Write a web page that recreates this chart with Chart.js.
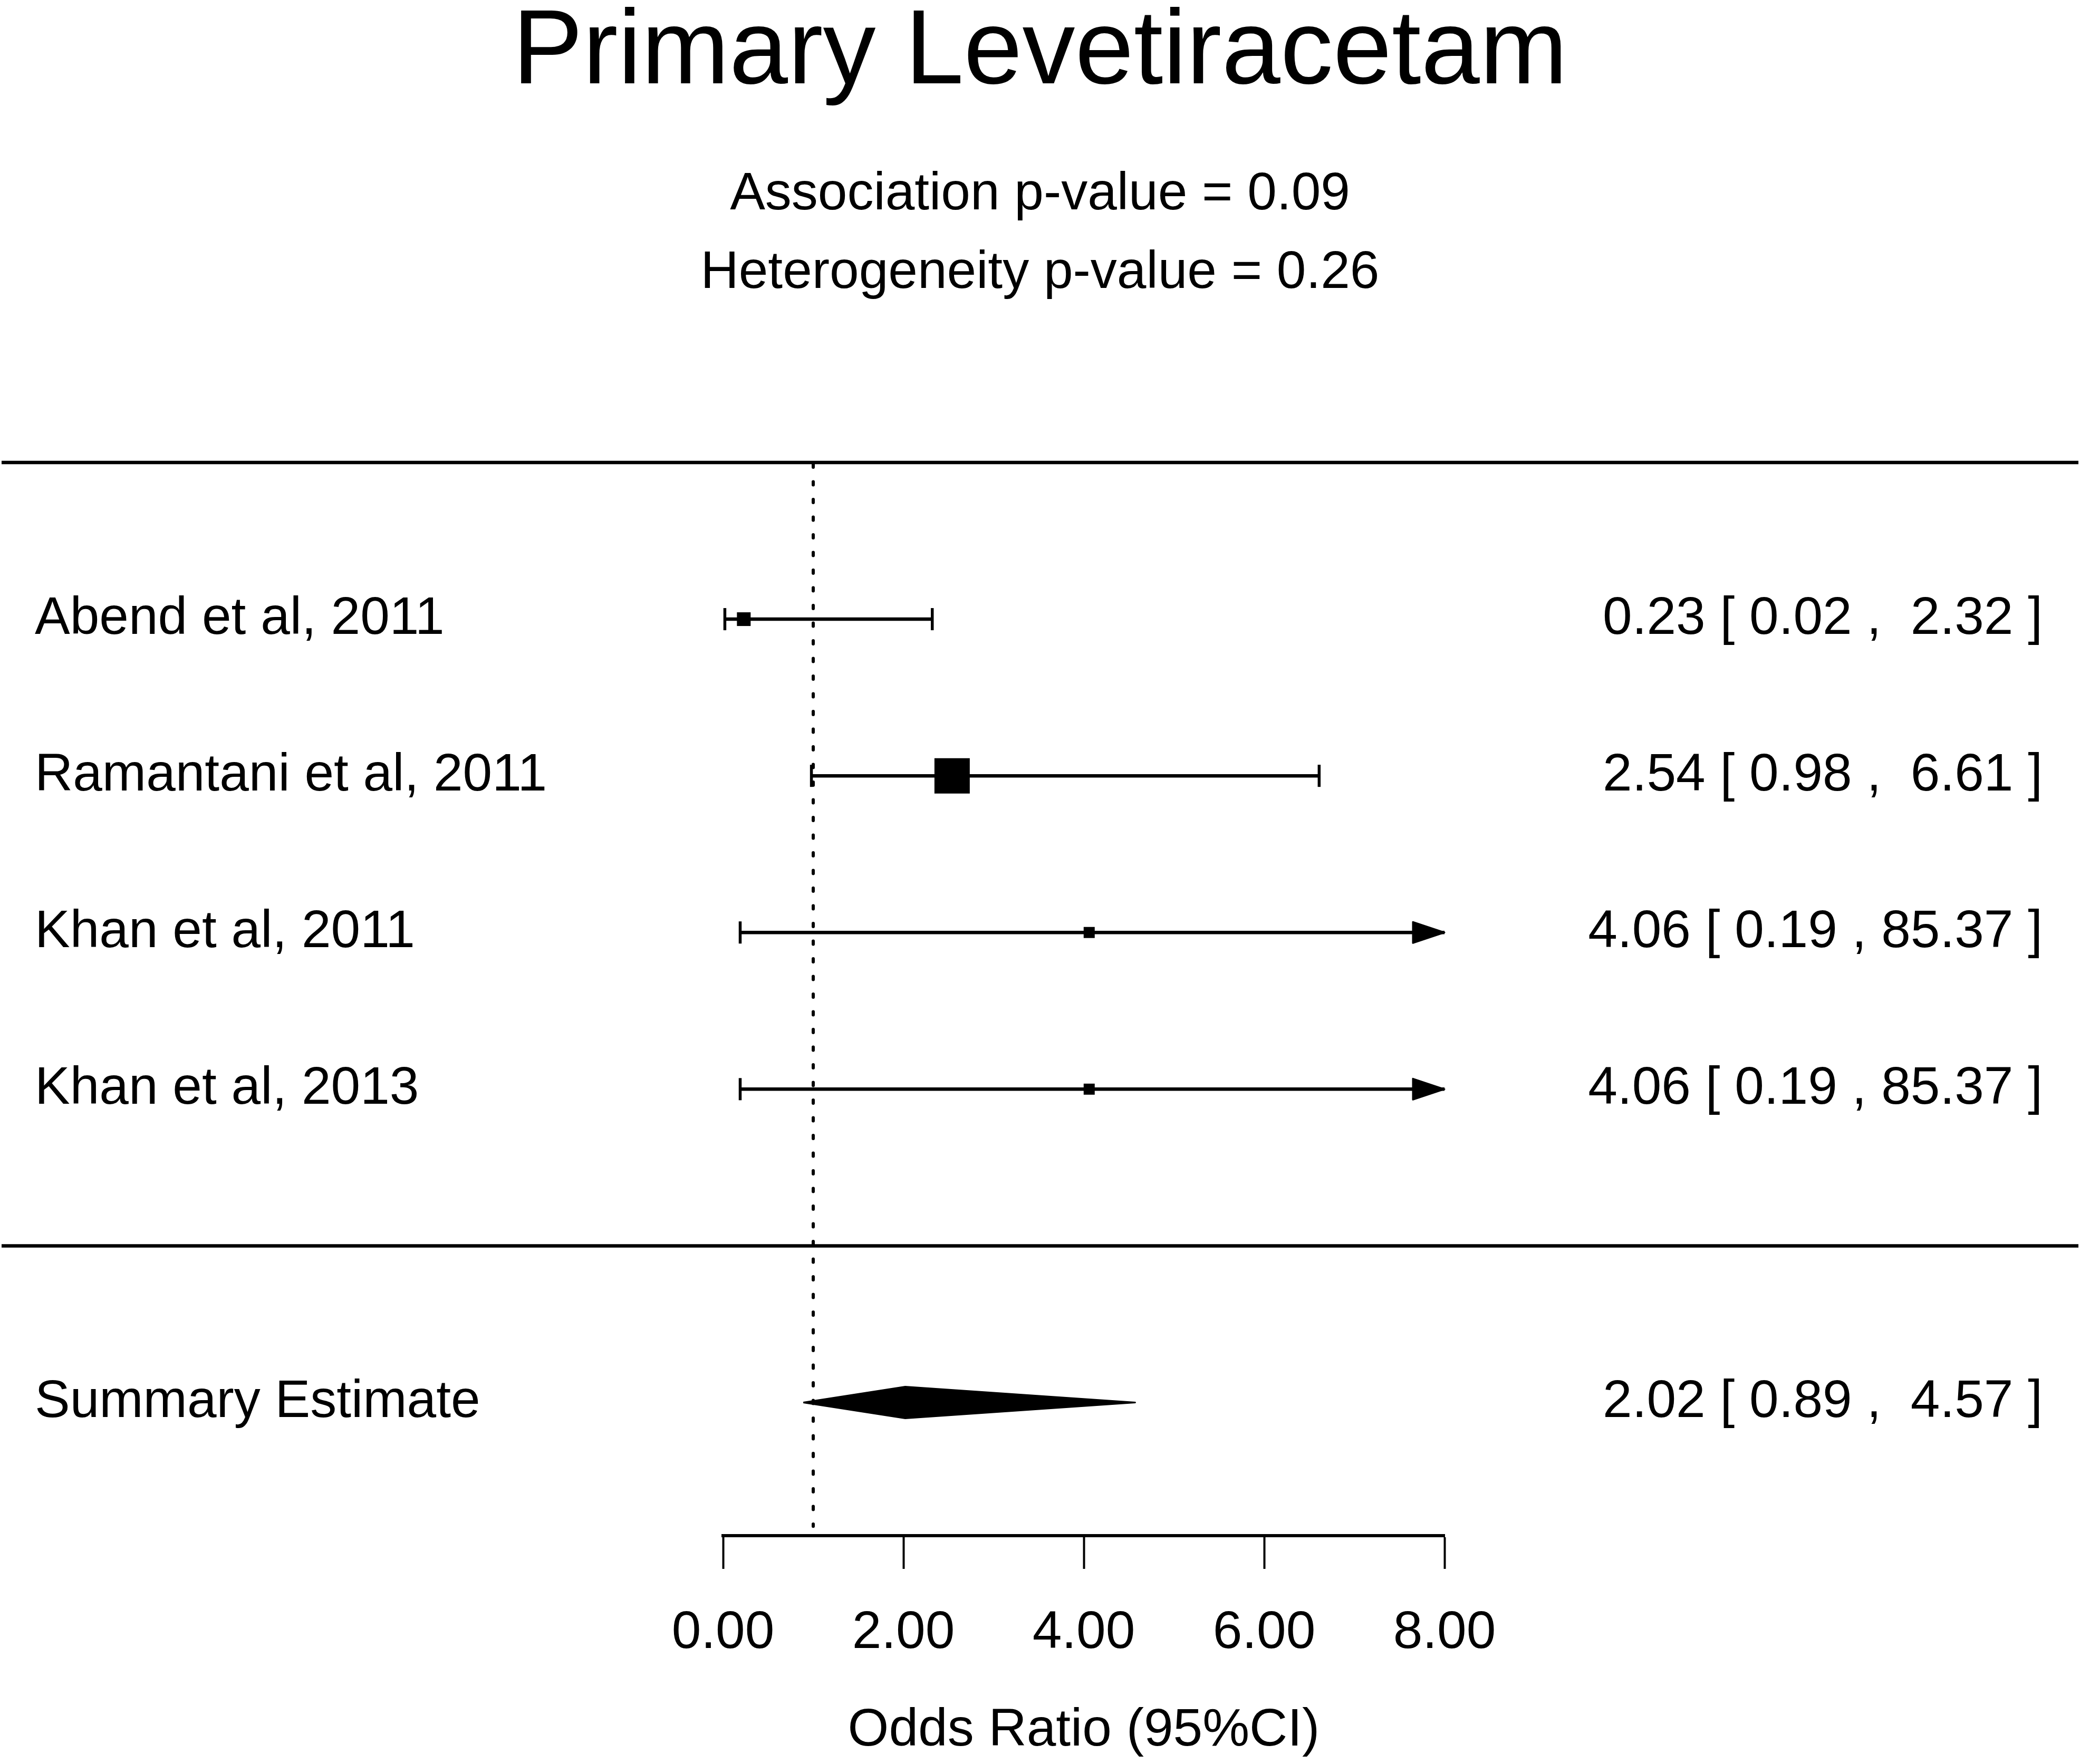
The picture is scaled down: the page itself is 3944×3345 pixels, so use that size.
<!DOCTYPE html>
<html lang="en">
<head>
    <meta charset="UTF-8">
    <title>Primary Levetiracetam</title>
    <script src="https://cdn.jsdelivr.net/npm/chart.js@4.4.1/dist/chart.umd.min.js"></script>
    <style>
        body {
            margin: 0;
            background: white;
        }
        #forest {
            display: block;
        }
    </style>
</head>
<body>
    <canvas id="forest" width="3944" height="3345"></canvas>

    <script>
        // Data
        const studies = ['Abend et al, 2011', 'Ramantani et al, 2011', 'Khan et al, 2011', 'Khan et al, 2013'];
        const oddsRatios = [0.23, 2.54, 4.06, 4.06];
        const lowerCI = [0.02, 0.98, 0.19, 0.19];
        const upperCI = [2.32, 6.61, 85.37, 85.37];
        const summaryLabel = 'Summary Estimate';
        const summaryOR = 2.02;
        const summaryLower = 0.89;
        const summaryUpper = 4.57;
        const xTicks = [0, 2, 4, 6, 8];
        const titleText = 'Primary Levetiracetam';
        const subtitleLines = ['Association p-value = 0.09', 'Heterogeneity p-value = 0.26'];
        const axisTitle = 'Odds Ratio (95%CI)';

        // Layout rows (y axis runs top to bottom)
        const TOP_RULE = 0;
        const studyRows = [1, 2, 3, 4];
        const BOTTOM_RULE = 5;
        const SUMMARY_ROW = 6;
        const Y_MAX = 6.85;
        const X_MIN = xTicks[0];
        const X_MAX = xTicks[xTicks.length - 1];

        // Styling
        const FONT = '"Liberation Sans", Arial, Helvetica, sans-serif';
        const TEXT_SIZE = 100;
        const boxSides = [26, 67, 21, 21];
        const LINE_W = 6.5;

        function fmt(v) {
            return v.toFixed(2);
        }
        // numbers padded to width 5 with spaces, like R's formatC
        function ciLabel(or, lo, hi) {
            const pad = s => ' '.repeat(Math.max(0, 5 - s.length)) + s;
            return fmt(or) + ' [ ' + fmt(lo) + ' , ' + pad(fmt(hi)) + ' ]';
        }

        // Datasets
        const datasets = [];

        // reference line at OR = 1
        datasets.push({
            showLine: true,
            data: [{ x: 1, y: TOP_RULE + 0.01 }, { x: 1, y: 6.79 }],
            borderColor: '#000',
            borderWidth: 6,
            borderDash: [6, 27.5],
            borderCapStyle: 'round',
            pointRadius: 0
        });

        // CI lines
        studies.forEach((s, i) => {
            datasets.push({
                showLine: true,
                data: [{ x: lowerCI[i], y: studyRows[i] }, { x: Math.min(upperCI[i], X_MAX), y: studyRows[i] }],
                borderColor: '#000',
                borderWidth: LINE_W,
                pointRadius: 0
            });
        });

        // whisker ends (only where the interval ends inside the axis)
        const whiskers = [];
        studies.forEach((s, i) => {
            whiskers.push({ x: lowerCI[i], y: studyRows[i] });
            if (upperCI[i] <= X_MAX) whiskers.push({ x: upperCI[i], y: studyRows[i] });
        });
        datasets.push({
            data: whiskers,
            pointStyle: 'line',
            rotation: 90,
            pointRadius: 21,
            borderColor: '#000',
            borderWidth: 5.5,
            showLine: false
        });

        // point estimate boxes
        datasets.push({
            data: studies.map((s, i) => ({ x: oddsRatios[i], y: studyRows[i] })),
            pointStyle: 'rect',
            pointRadius: boxSides.map(b => b / Math.SQRT2),
            backgroundColor: '#000',
            borderColor: '#000',
            borderWidth: 0,
            showLine: false
        });

        // summary diamond
        const dh = 0.101;
        datasets.push({
            showLine: true,
            data: [
                { x: summaryLower, y: SUMMARY_ROW },
                { x: summaryOR, y: SUMMARY_ROW - dh },
                { x: summaryUpper, y: SUMMARY_ROW },
                { x: summaryOR, y: SUMMARY_ROW + dh },
                { x: summaryLower, y: SUMMARY_ROW }
            ],
            borderColor: '#000',
            backgroundColor: '#000',
            borderWidth: 3,
            borderJoinStyle: 'round',
            fill: 'shape',
            pointRadius: 0
        });

        // Text, rules and arrows drawn with the chart scales
        const forestDecor = {
            id: 'forestDecor',
            afterDraw(chart) {
                const ctx = chart.ctx;
                const xs = chart.scales.x;
                const ys = chart.scales.y;
                const W = chart.width;
                ctx.save();
                ctx.fillStyle = '#000';
                ctx.strokeStyle = '#000';

                // titles
                ctx.textAlign = 'center';
                ctx.textBaseline = 'alphabetic';
                ctx.font = '200px ' + FONT;
                ctx.fillText(titleText, W / 2, 158);
                ctx.font = TEXT_SIZE + 'px ' + FONT;
                ctx.fillText(subtitleLines[0], W / 2, 397);
                ctx.fillText(subtitleLines[1], W / 2, 546);

                // horizontal rules
                ctx.lineWidth = 6.5;
                [TOP_RULE, BOTTOM_RULE].forEach(r => {
                    const y = ys.getPixelForValue(r);
                    ctx.beginPath();
                    ctx.moveTo(3, y);
                    ctx.lineTo(W - 3, y);
                    ctx.stroke();
                });

                // arrows for intervals running off the axis
                ctx.lineJoin = 'round';
                ctx.lineWidth = 3;
                studies.forEach((s, i) => {
                    if (upperCI[i] > X_MAX) {
                        const tip = xs.getPixelForValue(X_MAX);
                        const y = ys.getPixelForValue(studyRows[i]);
                        ctx.beginPath();
                        ctx.moveTo(tip, y);
                        ctx.lineTo(tip - 60, y - 20);
                        ctx.lineTo(tip - 60, y + 20);
                        ctx.closePath();
                        ctx.fill();
                        ctx.stroke();
                    }
                });

                // row labels
                ctx.font = TEXT_SIZE + 'px ' + FONT;
                const leftX = 66;
                const rightX = 3873;
                const dy = 28;
                studies.forEach((s, i) => {
                    const y = ys.getPixelForValue(studyRows[i]) + dy;
                    ctx.textAlign = 'left';
                    ctx.fillText(s, leftX, y);
                    ctx.textAlign = 'right';
                    ctx.fillText(ciLabel(oddsRatios[i], lowerCI[i], upperCI[i]), rightX, y);
                });
                const sy = ys.getPixelForValue(SUMMARY_ROW) + dy;
                ctx.textAlign = 'left';
                ctx.fillText(summaryLabel, leftX, sy);
                ctx.textAlign = 'right';
                ctx.fillText(ciLabel(summaryOR, summaryLower, summaryUpper), rightX, sy);

                ctx.restore();
            }
        };

        Chart.defaults.font.family = FONT;
        Chart.defaults.color = '#000';

        new Chart(document.getElementById('forest'), {
            type: 'scatter',
            data: { datasets: datasets },
            options: {
                responsive: false,
                devicePixelRatio: 1,
                animation: false,
                layout: {
                    padding: { left: 1371, right: 1205, top: 877, bottom: 0 }
                },
                elements: {
                    line: { tension: 0 }
                },
                datasets: {
                    scatter: { clip: false }
                },
                plugins: {
                    legend: { display: false },
                    tooltip: { enabled: false }
                },
                scales: {
                    x: {
                        type: 'linear',
                        min: X_MIN,
                        max: X_MAX,
                        afterBuildTicks: scale => {
                            scale.ticks = xTicks.map(v => ({ value: v }));
                        },
                        afterFit: scale => {
                            scale.height = 433;
                        },
                        ticks: {
                            callback: v => fmt(v),
                            font: { size: TEXT_SIZE },
                            color: '#000',
                            padding: 62,
                            maxRotation: 0,
                            autoSkip: false
                        },
                        grid: {
                            drawOnChartArea: false,
                            drawTicks: true,
                            tickLength: 63,
                            tickWidth: 4,
                            tickColor: '#000'
                        },
                        border: {
                            display: true,
                            color: '#000',
                            width: 6
                        },
                        title: {
                            display: true,
                            text: axisTitle,
                            font: { size: TEXT_SIZE },
                            color: '#000',
                            padding: { top: 0, bottom: 3 }
                        }
                    },
                    y: {
                        type: 'linear',
                        display: false,
                        reverse: true,
                        min: TOP_RULE,
                        max: Y_MAX
                    }
                }
            },
            plugins: [forestDecor]
        });
    </script>
</body>
</html>
